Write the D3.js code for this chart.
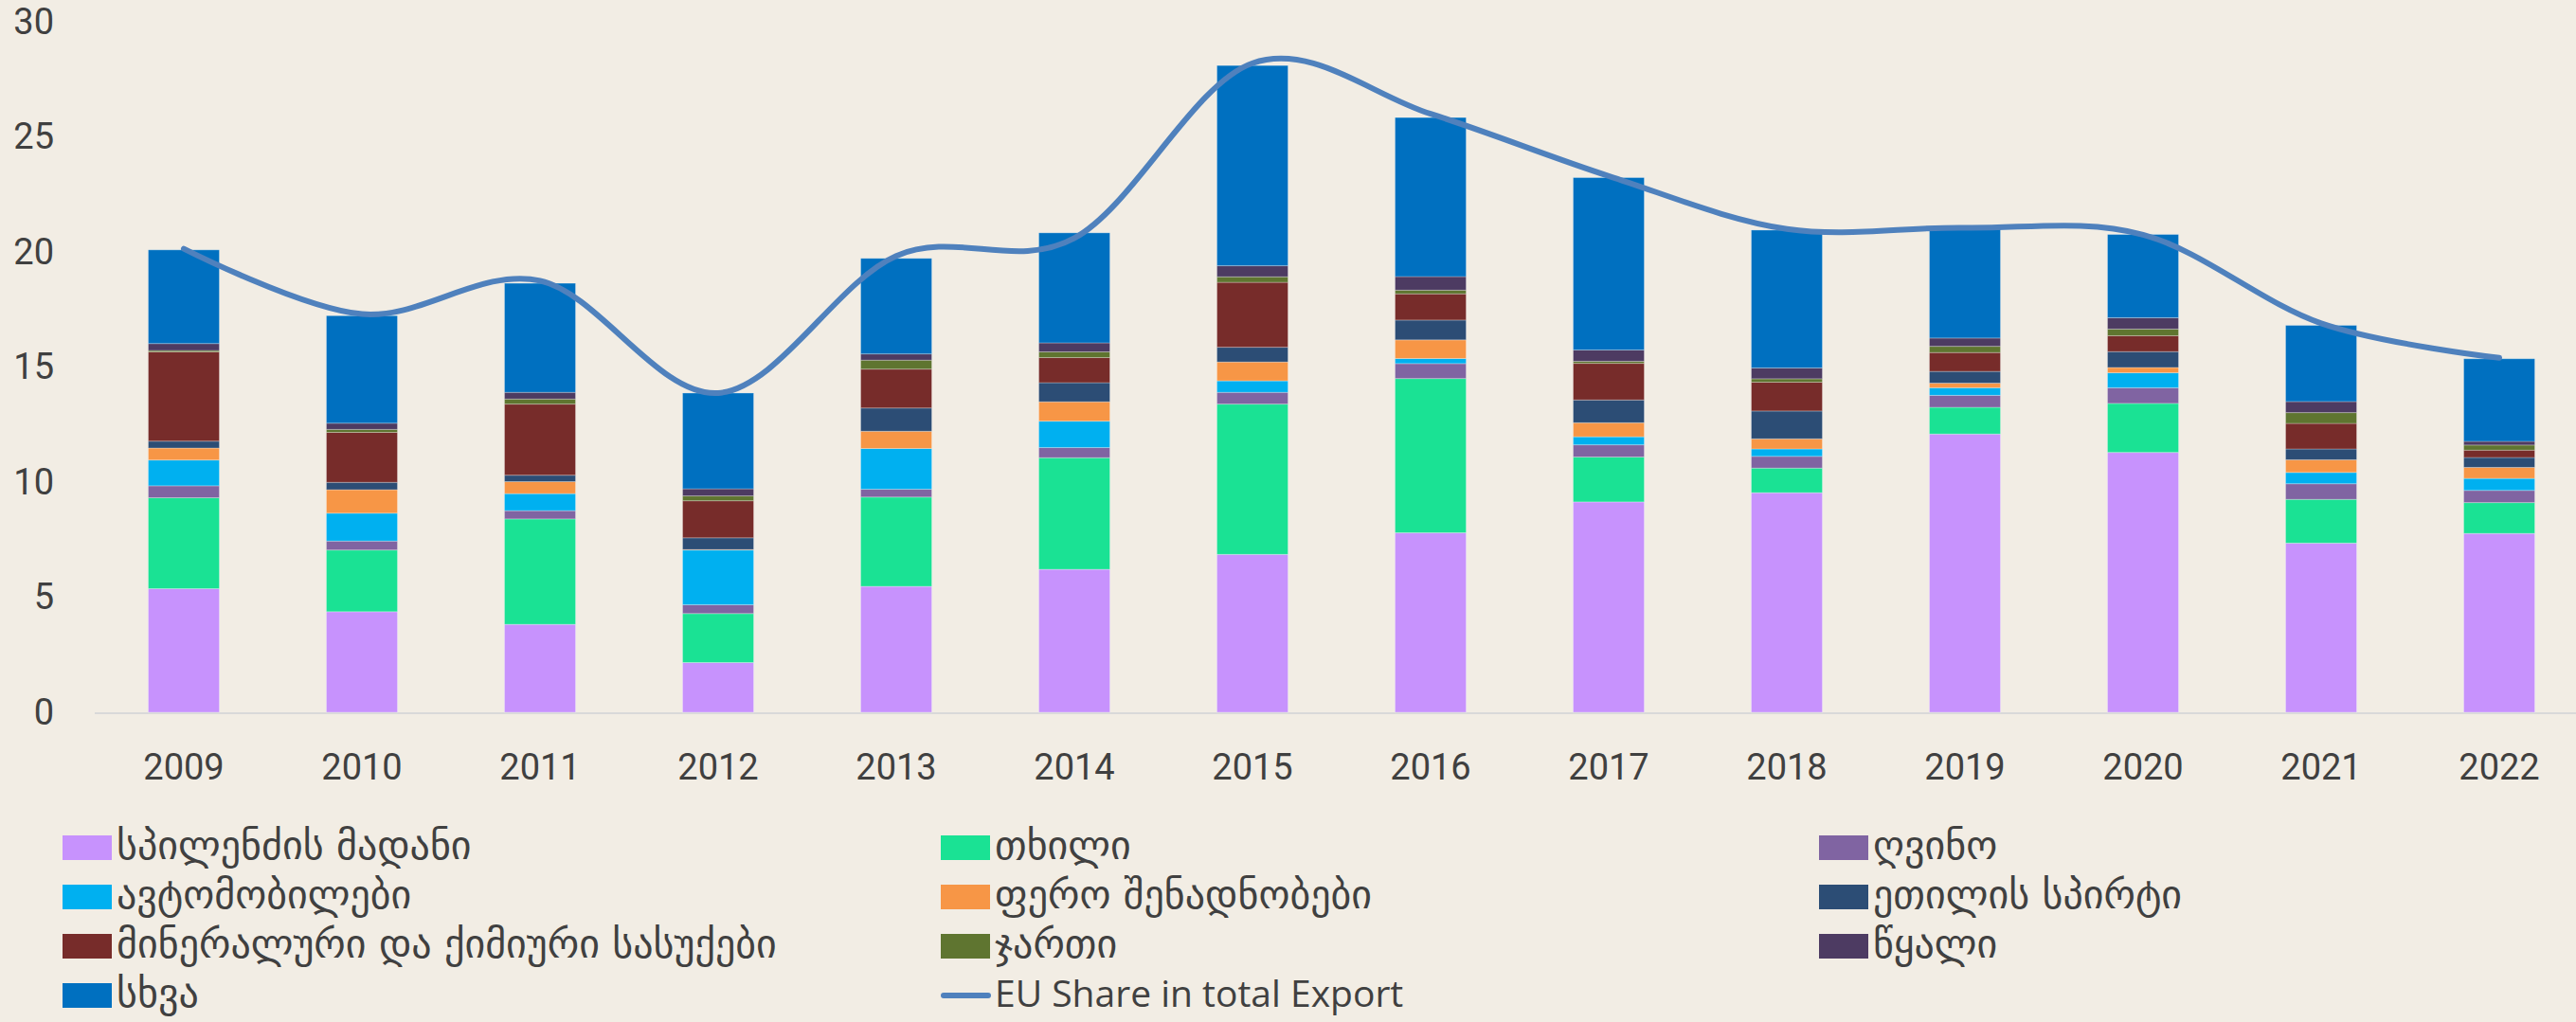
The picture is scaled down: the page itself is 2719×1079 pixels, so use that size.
<!DOCTYPE html>
<html>
<head>
<meta charset="utf-8">
<script src="https://cdn.jsdelivr.net/npm/d3@7"></script>
<style>
  html, body { margin: 0; padding: 0; background: #F2EDE4; }
  svg { display: block; }
  text { font-family: Roboto, "DejaVu Sans", sans-serif; fill: #404040; }
</style>
</head>
<body>
<svg id="chart" width="2719" height="1079"></svg>
<script>
// ---- data ----
const years = ["2009","2010","2011","2012","2013","2014","2015","2016","2017","2018","2019","2020","2021","2022"];
const seriesNames = ["სპილენძის მადანი","თხილი","ღვინო","ავტომობილები","ფერო შენადნობები","ეთილის სპირტი","მინერალური და ქიმიური სასუქები","ჯართი","წყალი","სხვა"];
const copperOre   = [5.37, 4.37, 3.82, 2.16, 5.47, 6.21, 6.86, 7.80, 9.14, 9.54, 12.09, 11.29, 7.35, 7.77];
const hazelnuts   = [3.95, 2.68, 4.58, 2.13, 3.88, 4.85, 6.53, 6.70, 1.95, 1.07, 1.16, 2.13, 1.90, 1.34];
const wine        = [0.52, 0.39, 0.36, 0.38, 0.34, 0.44, 0.51, 0.65, 0.53, 0.51, 0.52, 0.68, 0.68, 0.53];
const cars        = [1.12, 1.21, 0.74, 2.38, 1.77, 1.15, 0.50, 0.22, 0.35, 0.32, 0.33, 0.65, 0.49, 0.52];
const ferroAlloys = [0.52, 1.02, 0.52, 0.02, 0.75, 0.84, 0.82, 0.81, 0.61, 0.44, 0.20, 0.23, 0.55, 0.48];
const ethylSpirit = [0.30, 0.32, 0.28, 0.51, 1.01, 0.83, 0.64, 0.86, 0.99, 1.21, 0.51, 0.69, 0.47, 0.43];
const fertilizers = [3.88, 2.17, 3.09, 1.61, 1.69, 1.09, 2.82, 1.14, 1.59, 1.25, 0.82, 0.69, 1.11, 0.32];
const scrap       = [0.06, 0.13, 0.22, 0.21, 0.39, 0.25, 0.24, 0.16, 0.09, 0.15, 0.27, 0.29, 0.47, 0.22];
const water       = [0.30, 0.27, 0.29, 0.31, 0.27, 0.39, 0.48, 0.59, 0.49, 0.47, 0.36, 0.49, 0.48, 0.16];
const other       = [4.07, 4.67, 4.74, 4.16, 4.15, 4.78, 8.70, 6.91, 7.49, 5.99, 4.74, 3.62, 3.31, 3.59];
const euShare     = [20.14, 17.3, 18.75, 13.87, 19.83, 20.6, 28.2, 26.0, 23.3, 21.0, 21.05, 20.75, 16.9, 15.4];
const lineName = "EU Share in total Export";
const yTicks = [0, 5, 10, 15, 20, 25, 30];

const seriesValues = [copperOre, hazelnuts, wine, cars, ferroAlloys, ethylSpirit, fertilizers, scrap, water, other];
const colors = ["#C792FD","#1AE294","#8064A2","#00B0F0","#F79646","#2C4D75","#772C2A","#5F7530","#4D3B62","#0070C0"];
const lineColor = "#4F81BD";

// build table
const table = years.map((y, i) => {
  const row = { year: y };
  seriesNames.forEach((n, k) => row[n] = seriesValues[k][i]);
  return row;
});

const svg = d3.select("#chart");
const W = 2719, H = 1079;

const x = d3.scaleBand().domain(years).range([100, 2732]).paddingInner(0.601).paddingOuter(0.3005);
const y = d3.scaleLinear().domain([0, 30]).range([752, 23]);

// baseline
svg.append("line")
  .attr("x1", 100).attr("x2", W)
  .attr("y1", y(0) + 1).attr("y2", y(0) + 1)
  .attr("stroke", "#D9D9D9").attr("stroke-width", 2);

// y axis labels
const yAxis = svg.append("g").attr("transform", "translate(100,0)")
  .call(d3.axisLeft(y).tickValues(yTicks).tickSize(0).tickPadding(43));
yAxis.select(".domain").remove();
yAxis.selectAll("text").style("font-size", "38px").attr("fill", "#404040")
  .style("font-family", "Roboto, sans-serif");

// x axis labels
const xAxis = svg.append("g").attr("transform", `translate(0,${y(0)})`)
  .call(d3.axisBottom(x).tickSize(0).tickPadding(44));
xAxis.select(".domain").remove();
xAxis.selectAll("text").style("font-size", "38px").attr("fill", "#404040")
  .style("font-family", "Roboto, sans-serif");

// stacked bars
const stacked = d3.stack().keys(seriesNames)(table);
svg.append("g").selectAll("g")
  .data(stacked)
  .join("g")
  .attr("fill", (d, i) => colors[i])
  .selectAll("rect")
  .data(d => d)
  .join("rect")
  .attr("x", d => x(d.data.year))
  .attr("width", x.bandwidth())
  .attr("y", d => y(d[1]))
  .attr("height", d => Math.max(0, y(d[0]) - y(d[1])))
  .attr("stroke", "rgba(255,255,255,0.28)")
  .attr("stroke-width", 1);

// EU share line
const line = d3.line()
  .x((d, i) => x(years[i]) + x.bandwidth() / 2)
  .y(d => y(d))
  .curve(d3.curveCardinal.tension(0));
svg.append("path")
  .datum(euShare)
  .attr("d", line)
  .attr("fill", "none")
  .attr("stroke", lineColor)
  .attr("stroke-width", 6)
  .attr("stroke-linecap", "round")
  .attr("stroke-linejoin", "round");

// legend
const colX = [66, 993, 1920];
const rowTop = [882, 934, 986, 1038];
const legendItems = seriesNames.map((n, i) => ({ name: n, color: colors[i], type: "rect" }));
legendItems.push({ name: lineName, color: lineColor, type: "line" });
const lg = svg.append("g");
legendItems.forEach((it, i) => {
  const c = i % 3, r = Math.floor(i / 3);
  const gx = colX[c], gy = rowTop[r];
  const g = lg.append("g").attr("transform", `translate(${gx},${gy})`);
  if (it.type === "rect") {
    g.append("rect").attr("width", 52).attr("height", 26).attr("fill", it.color);
  } else {
    g.append("line").attr("x1", 3).attr("x2", 50).attr("y1", 13).attr("y2", 13)
      .attr("stroke", it.color).attr("stroke-width", 6).attr("stroke-linecap", "round");
  }
  const t = g.append("text").attr("x", 57).attr("y", 25).text(it.name);
  if (it.type === "rect") {
    t.style("font-size", "42px").style("font-family", "'DejaVu Sans', sans-serif");
  } else {
    t.style("font-size", "39px").style("font-family", "'Open Sans', Roboto, sans-serif");
  }
});
</script>
</body>
</html>
